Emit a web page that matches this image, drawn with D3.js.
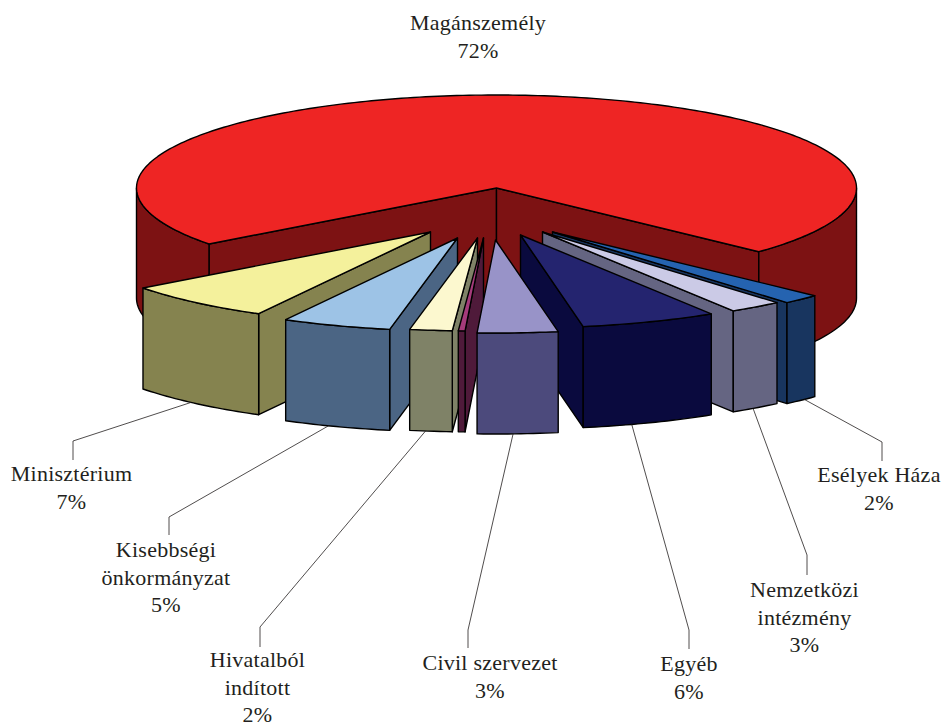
<!DOCTYPE html>
<html>
<head>
<meta charset="utf-8">
<script src="https://cdn.jsdelivr.net/npm/d3@7"></script>
<style>
html,body{margin:0;padding:0;background:#fff;}
svg{display:block;}
text{font-family:"Liberation Serif","Times New Roman",serif;font-size:22px;letter-spacing:0.25px;fill:#231f20;text-anchor:middle;}
</style>
</head>
<body>
<svg id="chart" width="945" height="726"></svg>
<script>
// ---- data ----
const categories = ["Magánszemély","Esélyek Háza","Nemzetközi intézmény","Egyéb","Civil szervezet","","Hivatalból indított","Kisebbségi önkormányzat","Minisztérium"];
const shares = [72.25,1.7,2.4,6.1,3.6,0.3,1.9,4.9,6.8];
const percentLabels = ["72%","2%","3%","6%","3%","","2%","5%","7%"];

// ---- styles ----
const topColors = ["#ee2524","#2563b0","#cbcae6","#24246f","#9893c8","#a53b7b","#fcf8cf","#9dc3e6","#f4f19c"];
const sideColors = ["#7d1213","#18355f","#656582","#0a0a3e","#4c4a7c","#4f1a3a","#7f8267","#4b6584","#85834f"];

// ---- layout ----
const W = 945, H = 726;
const cx = 496.5, cy = 188, rx = 360, ry = 93;
const mainDepth = 110, sliceDepth = 101;
// displacement of each pulled-out wedge from the pie centre
const explodeX = [0,56,46,24,-1,-13,-19,-39,-66];
const explodeY = [0,44,44,47,52,50,50,50,44];
// label layout
const labelLines = [["Magánszemély"],["Esélyek Háza"],["Nemzetközi","intézmény"],["Egyéb"],["Civil szervezet"],[],["Hivatalból","indított"],["Kisebbségi","önkormányzat"],["Minisztérium"]];
const labelX = [478,879,804.5,689,490,0,257.5,166,71.5];
const labelBase = [30,482,597,671,670,0,667,557,481];
const leaderElbowX = [null,882,807,689,468,null,260,169,73];
const leaderElbowY = [null,442,555,630,630,null,627,517,441];
const leaderEndY = [null,461,575,649,648,null,647,535,460];
const leaderAngle = [null,135.6,144.2,162,177.2,null,188.3,201,221.7];
const lineHeight = 27.5;

const svg = d3.select("#chart");
const rad = d => d * Math.PI / 180;

const pie = d3.pie().sort(null).value(d => d).startAngle(rad(233)).endAngle(rad(593));
const arcs = pie(shares);

const xScale = d3.scaleLinear().domain([-1,1]).range([-rx,rx]);
const yScale = d3.scaleLinear().domain([-1,1]).range([ry,-ry]);
const rimPoint = (a,dx,dy,h) => [cx+dx+xScale(Math.sin(a)), cy+dy+h+yScale(Math.cos(a))];
const line = d3.line();

function sampleArc(a0,a1,dx,dy,h){
  const n = Math.max(2,Math.ceil(Math.abs(a1-a0)/rad(1)));
  return d3.range(n+1).map(i => rimPoint(a0+(a1-a0)*i/n,dx,dy,h));
}
const norm = a => { const t = Math.PI*2; return ((a%t)+t)%t; };

function poly(points,fill){
  svg.append("path").attr("d",line(points)+"Z")
    .attr("fill",fill).attr("stroke","#000").attr("stroke-width",1.4).attr("stroke-linejoin","round");
}

function drawWedge(d,i){
  const dx = explodeX[i], dy = explodeY[i];
  const depth = i===0 ? mainDepth : sliceDepth;
  const a0 = d.startAngle, a1 = d.endAngle;
  const apex = [cx+dx,cy+dy];
  const apexB = [cx+dx,cy+dy+depth];
  const side = sideColors[i];
  const a0n = norm(a0), a1n = norm(a1);
  // cut walls facing the viewer
  if(a0n > Math.PI){
    const p = rimPoint(a0,dx,dy,0), q = rimPoint(a0,dx,dy,depth);
    poly([apex,p,q,apexB],side);
  }
  if(a1n < Math.PI){
    const p = rimPoint(a1,dx,dy,0), q = rimPoint(a1,dx,dy,depth);
    poly([apex,p,q,apexB],side);
  }
  // curved outer walls: the parts of the rim between 90deg and 270deg
  const t = Math.PI*2;
  for(const k of [0,1]){
    const lo = Math.max(a0, Math.PI/2 + k*t), hi = Math.min(a1, 3*Math.PI/2 + k*t);
    if(hi > lo){
      poly(sampleArc(lo,hi,dx,dy,0).concat(sampleArc(hi,lo,dx,dy,depth)),side);
    }
  }
  // top face
  poly([apex].concat(sampleArc(a0,a1,dx,dy,0)),topColors[i]);
}

// back to front: the large slice first, then the wedges from the sides toward
// the middle; the wedge that straddles the front of the pie comes last
const spansFront = i => norm(arcs[i].startAngle) < Math.PI && norm(arcs[i].endAngle) > Math.PI;
const order = arcs.map((d,i)=>i).filter(i=>i>0)
  .sort((p,q)=>{
    if(spansFront(p)!==spansFront(q)) return spansFront(p)?1:-1;
    const m = d => Math.abs(norm((arcs[d].startAngle+arcs[d].endAngle)/2)-Math.PI);
    return m(q)-m(p);
  });
drawWedge(arcs[0],0);
order.forEach(i=>drawWedge(arcs[i],i));

// leaders and labels
arcs.forEach((d,i)=>{
  if(leaderElbowX[i]!=null){
    const start = rimPoint(rad(leaderAngle[i]),explodeX[i],explodeY[i],sliceDepth);
    svg.append("path")
      .attr("d",line([start,[leaderElbowX[i],leaderElbowY[i]],[leaderElbowX[i],leaderEndY[i]]]))
      .attr("fill","none").attr("stroke","#231f20").attr("stroke-width",0.8);
  }
  if(percentLabels[i]){
    const lines = labelLines[i].concat([percentLabels[i]]);
    lines.forEach((t,j)=>{
      svg.append("text").attr("x",labelX[i]).attr("y",labelBase[i]+j*lineHeight).text(t);
    });
  }
});
</script>
</body>
</html>
